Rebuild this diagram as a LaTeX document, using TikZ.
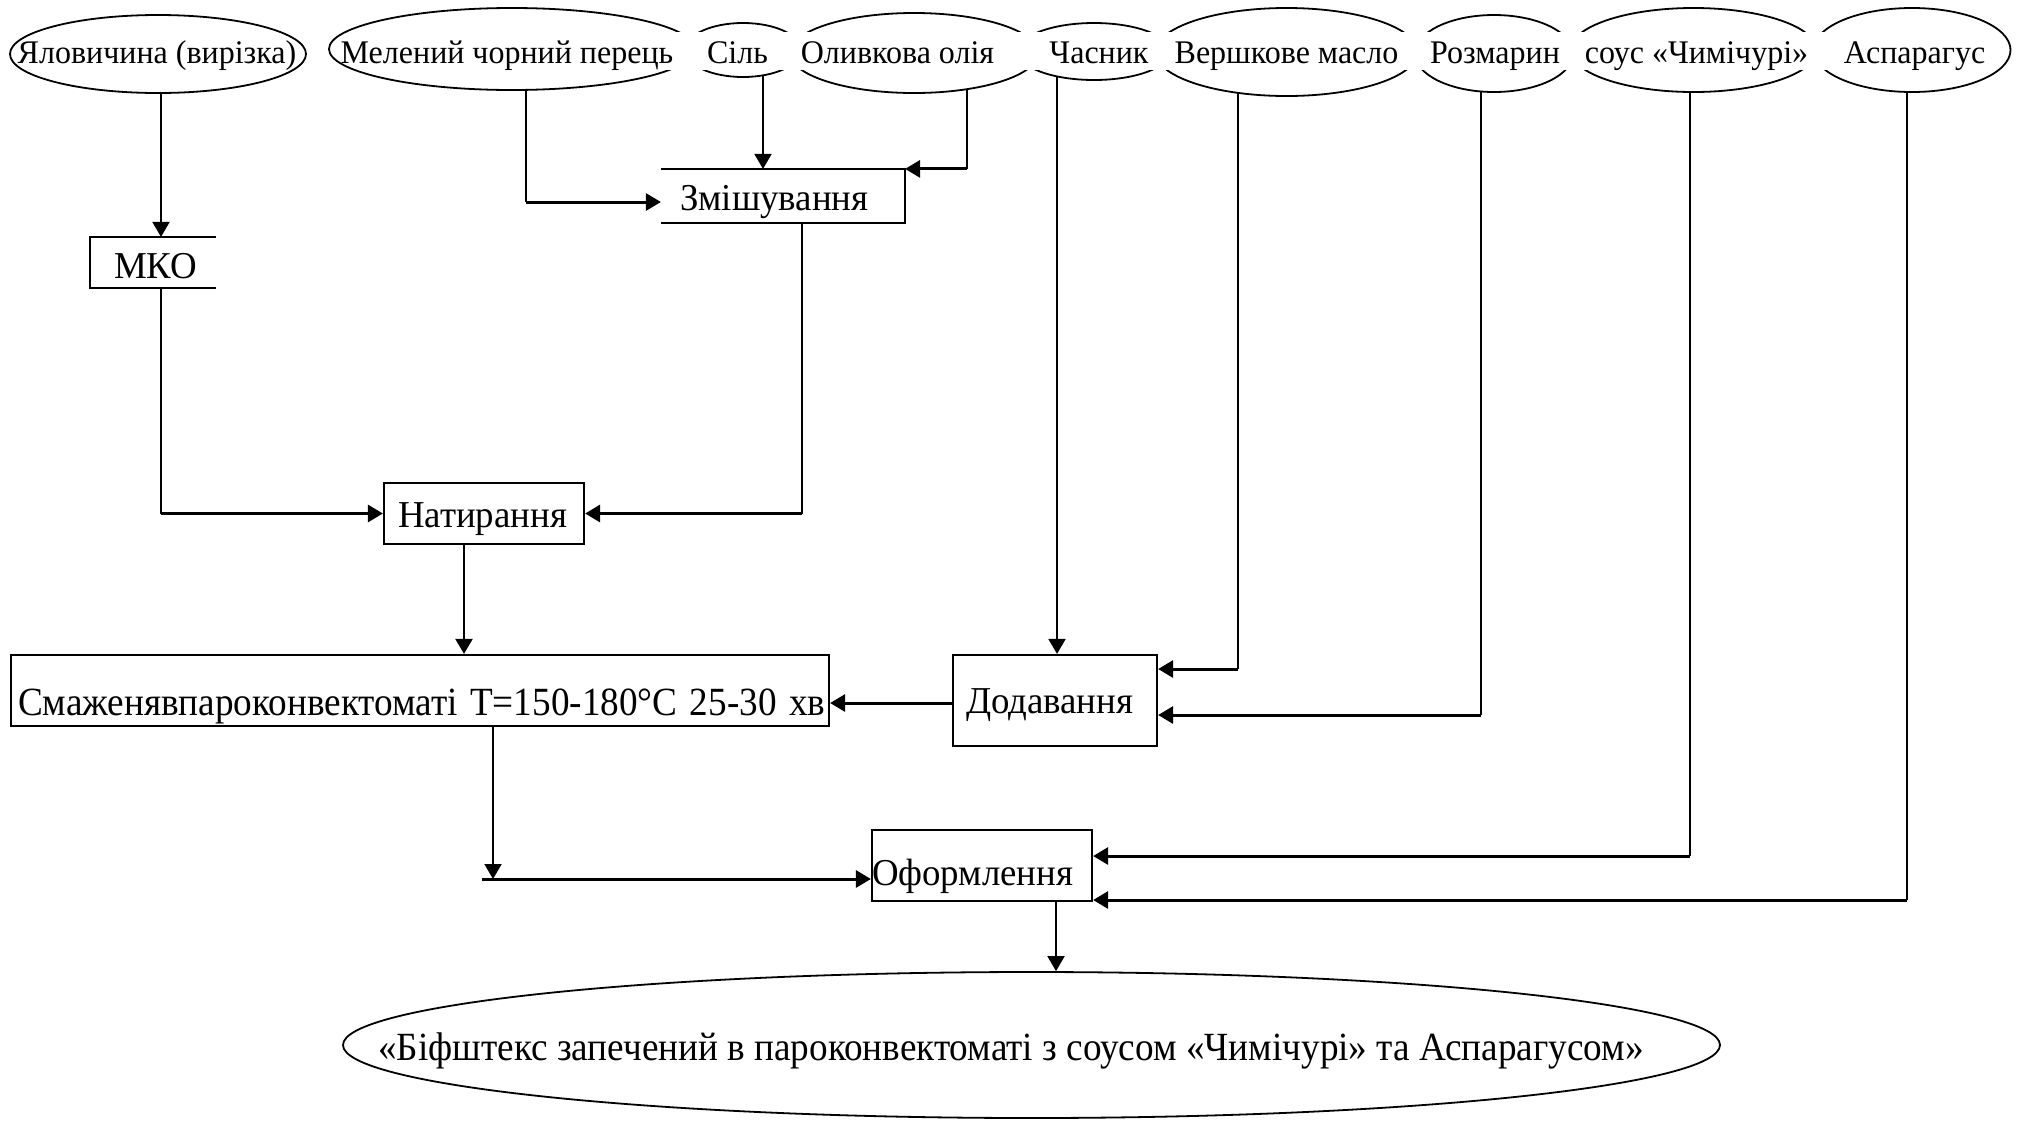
\documentclass[tikz,border=0pt]{standalone}
\usepackage{fontspec}
\setmainfont{Liberation Serif}
\usetikzlibrary{arrows.meta,shapes.geometric}
\pgfdeclarelayer{background}
\pgfsetlayers{background,main}
\newcommand{\sq}[1]{\scalebox{0.93}[1]{#1}}
\newcommand{\sqb}[1]{\scalebox{0.97}[1]{#1}}
\tikzset{
  oval/.style={ellipse, draw, line width=1.8pt, fill=white, inner sep=0pt},
  toplab/.style={anchor=base, inner sep=0pt, font=\fontsize{33}{36}\selectfont},
  box/.style={rectangle, draw, line width=2.2pt, inner ysep=0pt, align=left, font=\fontsize{38}{42}\selectfont},
  vline/.style={line width=2pt},
  hline/.style={line width=3pt},
  arr/.style={-{Triangle[length=15pt,width=17pt]}},
}
\begin{document}
\begin{tikzpicture}[x=1pt,y=-1pt]
\useasboundingbox (0,0) rectangle (2037,1120);

% top ellipses
\node[oval, minimum width=296pt, minimum height=78pt] (e1) at (158,54) {};
\node[oval, minimum width=366pt, minimum height=82pt] (e2) at (512,49) {};
\node[oval, minimum width=116pt, minimum height=54pt] (e3) at (743,50) {};
\node[oval, minimum width=248pt, minimum height=80pt] (e4) at (914,53) {};
\node[oval, minimum width=152pt, minimum height=57pt] (e5) at (1094,51.5) {};
\node[oval, minimum width=262pt, minimum height=88pt] (e6) at (1286.5,52) {};
\node[oval, minimum width=158pt, minimum height=77pt] (e7) at (1494,53.5) {};
\node[oval, minimum width=246pt, minimum height=84pt] (e8) at (1693.5,50) {};
\node[oval, minimum width=197pt, minimum height=84pt] (e9) at (1912,50) {};
\fill[white] (598,32) rectangle (1992,70);

\node[toplab] (t1) at (157,63) {\sqb{Яловичина (вирізка)}};
\node[toplab] (t2) at (507,63) {\sqb{Мелений чорний перець}};
\node[toplab] (t3) at (737.5,63) {\sqb{Сіль}};
\node[toplab] (t4) at (897.5,63) {\sqb{Оливкова олія}};
\node[toplab] (t5) at (1099,63) {\sqb{Часник}};
\node[toplab] (t6) at (1286.5,63) {\sqb{Вершкове масло}};
\node[toplab] (t7) at (1495,63) {\sqb{Розмарин}};
\node[toplab] (t8) at (1696.5,63) {\sqb{соус «Чимічурі»}};
\node[toplab] (t9) at (1914.5,63) {\sqb{Аспарагус}};

% boxes
\node[box, draw=none, inner xsep=23pt, text width=78pt, text height=40pt, text depth=9pt] (mko) at (153,262.5) {\sqb{МКО}};
\draw[line width=2.2pt] (mko.north east) -- (mko.north west) -- (mko.south west) -- (mko.south east);
\node[box, draw=none, inner xsep=18pt, text width=206pt, text height=40pt, text depth=12pt] (zm) at (783,196) {\sqb{Змішування}};
\draw[line width=2.2pt] (zm.north west) -- (zm.north east) -- (zm.south east) -- (zm.south west);
\node[box, inner xsep=14pt, text width=172pt, text height=44pt, text depth=17pt] (nat) at (484,513.5) {\sqb{Натирання}};
\node[box, inner xsep=7pt, text width=804pt, text height=60pt, text depth=11pt, font=\fontsize{40}{44}\selectfont] (smaz) at (420,690.5) {\sq{Смаженявпароконвектоматі Т=150-180°С 25-30 хв}};
\node[box, inner xsep=13pt, text width=178pt, text height=58pt, text depth=33pt] (dod) at (1055,700.5) {\sqb{Додавання}};
\node[box, inner xsep=0pt, text width=220pt, text height=55pt, text depth=16pt] (ofo) at (982,865.5) {\sqb{Оформлення}};

\node[oval, minimum width=1377pt, minimum height=146pt] (fin) at (1031.5,1045) {};
\node[anchor=base, inner sep=0pt, font=\fontsize{40}{44}\selectfont] (fint) at (1011,1060) {\sq{«Біфштекс запечений в пароконвектоматі з соусом «Чимічурі» та Аспарагусом»}};

% connectors
\coordinate (s1) at ([xshift=3pt]e1.center);
\coordinate (m2) at ([xshift=8pt]mko.south);
\coordinate (s3) at ([xshift=14pt]e2.center);
\coordinate (zmL) at ([yshift=-6pt]zm.west);
\coordinate (s4) at ([xshift=20pt]e3.center);
\coordinate (s5) at ([xshift=53pt]e4.center);
\coordinate (s6) at ([xshift=19pt]zm.south);
\coordinate (s7) at ([xshift=-20pt]nat.south);
\coordinate (s8) at ([yshift=-2.5pt]dod.west);
\coordinate (s9) at ([xshift=-37pt]e5.center);
\coordinate (s10) at ([xshift=-49pt]e6.center);
\coordinate (d10) at ([yshift=31.5pt]dod.east);
\coordinate (s11) at ([xshift=-13pt]e7.center);
\coordinate (d11) at ([yshift=-14.5pt]dod.east);
\coordinate (s12) at ([xshift=73pt]smaz.south);
\coordinate (d12) at ([yshift=-13.5pt]ofo.west);
\coordinate (s13) at ([xshift=-4pt]e8.center);
\coordinate (d13) at ([yshift=9.5pt]ofo.east);
\coordinate (s14) at ([xshift=-5pt]e9.center);
\coordinate (d14) at ([yshift=-34.5pt]ofo.east);
\coordinate (s15) at ([xshift=74pt]ofo.south);

\coordinate (c2) at (m2 |- nat.west);
\coordinate (c3) at (s3 |- zmL);
\coordinate (c5) at (s5 |- zm.north east);
\coordinate (c6) at (s6 |- nat.east);
\coordinate (c10) at (s10 |- d10);
\coordinate (c11) at (s11 |- d11);
\coordinate (j) at (s12 |- d12);
\coordinate (j0) at ([xshift=-11pt]j);
\coordinate (c13) at (s13 |- d13);
\coordinate (c14) at (s14 |- d14);

\begin{pgfonlayer}{background}
\fill[white] (0,0) rectangle (2037,1120);
\draw[vline,arr] (s1) -- ([xshift=8pt]mko.north);
\draw[vline] (m2) -- (c2);
\draw[hline,arr] (c2) -- (nat.west);
\draw[vline] (s3) -- (c3);
\draw[hline,arr] (c3) -- (zmL);
\draw[vline,arr] (s4) -- (s4 |- zm.north);
\draw[vline] (s5) -- (c5);
\draw[hline,arr] (c5) -- (zm.north east);
\draw[vline] (s6) -- (c6);
\draw[hline,arr] (c6) -- (nat.east);
\draw[vline,arr] (s7) -- (s7 |- smaz.north);
\draw[hline,arr] (s8) -- (s8 -| smaz.east);
\draw[vline,arr] (s9) -- (s9 |- dod.north);
\draw[vline] (s10) -- (c10);
\draw[hline,arr] (c10) -- (d10);
\draw[vline] (s11) -- (c11);
\draw[hline,arr] (c11) -- (d11);
\draw[vline,arr] (s12) -- (j);
\draw[hline,arr] (j0) -- (d12);
\draw[vline] (s13) -- (c13);
\draw[hline,arr] (c13) -- (d13);
\draw[vline] (s14) -- (c14);
\draw[hline,arr] (c14) -- (d14);
\draw[vline,arr] (s15) -- (s15 |- fin.north);
\end{pgfonlayer}
\end{tikzpicture}
\end{document}
